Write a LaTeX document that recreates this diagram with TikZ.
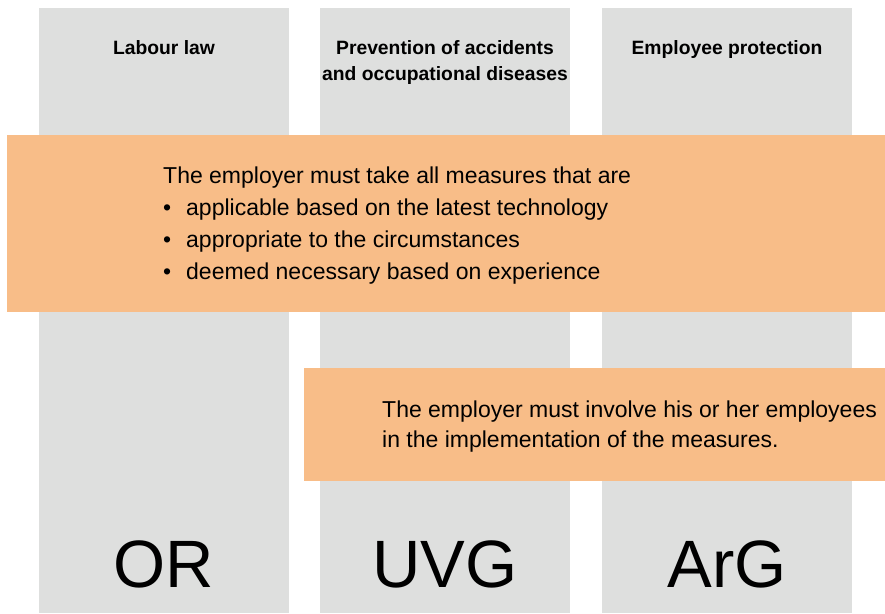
\documentclass[tikz,border=0pt]{standalone}
\usepackage{fontspec}
\setmainfont{Liberation Sans}
\definecolor{colgray}{RGB}{222,223,222}
\definecolor{bandorange}{RGB}{248,189,136}
\begin{document}
\begin{tikzpicture}[x=1pt,y=-1pt,
  column/.style={fill=colgray,draw=none,inner sep=0,minimum width=250pt,minimum height=605pt,anchor=north west},
  band/.style={fill=bandorange,draw=none,inner sep=0,anchor=north west},
  head/.style={font=\fontsize{19.3}{26}\selectfont\bfseries,align=center,anchor=base,inner sep=0},
  body/.style={font=\fontsize{23}{32}\selectfont,anchor=base west,inner sep=0},
  big/.style={font=\fontsize{67}{70}\selectfont,anchor=base,inner sep=0}]
\useasboundingbox (0,0) rectangle (885,613);
% columns
\node[column] (c1) at (39,8) {};
\node[column] (c2) at (320,8) {};
\node[column] (c3) at (602,8) {};
% bands
\node[band,minimum width=878pt,minimum height=177pt] (b1) at (7,135) {};
\node[band,minimum width=581pt,minimum height=113pt] (b2) at (304,368) {};
% headers
\node[head] (h1) at (164,54) {Labour law};
\node[head] (h2) at (445,54) {Prevention of accidents};
\node[head] (h2b) at (445,80) {and occupational diseases};
\node[head] (h3) at (727,54) {Employee protection};
% band 1 text
\node[body] (t1) at (163,183) {The employer must take all measures that are};
\node[body] (u1) at (163,215) {\textbullet};
\node[body] (l1) at (186,215) {applicable based on the latest technology};
\node[body] (u2) at (163,247) {\textbullet};
\node[body] (l2) at (186,247) {appropriate to the circumstances};
\node[body] (u3) at (163,279) {\textbullet};
\node[body] (l3) at (186,279) {deemed necessary based on experience};
% band 2 text
\node[body] (s1) at (382,417) {The employer must involve his or her employees};
\node[body] (s2) at (382,447) {in the implementation of the measures.};
% big labels
\node[big] (g1) at (164,587) {OR};
\node[big] (g2) at (445,587) {UVG};
\node[big] (g3) at (727,587) {ArG};
\end{tikzpicture}
\end{document}
